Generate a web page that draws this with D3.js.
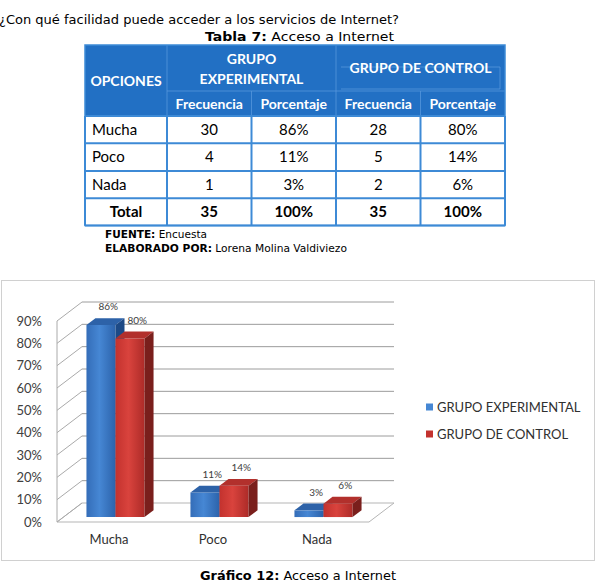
<!DOCTYPE html>
<html>
<head>
<meta charset="utf-8">
<script src="https://cdnjs.cloudflare.com/ajax/libs/d3/7.8.5/d3.min.js"></script>
<style>
    body { margin: 0; background: #fff; }
    svg { display: block; }
</style>
</head>
<body>
<div id="chart"></div>
<script>
var categories = ["Mucha", "Poco", "Nada"];
var series = ["GRUPO EXPERIMENTAL", "GRUPO DE CONTROL"];
var experimental = [0.86, 0.11, 0.03];
var control = [0.80, 0.14, 0.06];
var freqExperimental = [30, 4, 1];
var freqControl = [28, 5, 2];
var totalExperimental = 35;
var totalControl = 35;
var yTicks = [0, 0.1, 0.2, 0.3, 0.4, 0.5, 0.6, 0.7, 0.8, 0.9];

var pct = d3.format(".0%");
var sans = "Lato, 'Open Sans', sans-serif";
var tahoma = "'DejaVu Sans', sans-serif";

var svg = d3.select("#chart").append("svg")
    .attr("width", 600)
    .attr("height", 582);

// ---- header texts ----
svg.append("text")
    .attr("x", -1).attr("y", 24)
    .attr("textLength", 400).attr("lengthAdjust", "spacingAndGlyphs")
    .style("font-family", tahoma).style("font-size", "13px").attr("fill", "#000")
    .text("¿Con qué facilidad puede acceder a los servicios de Internet?");

var t7 = svg.append("text")
    .attr("x", 205).attr("y", 41)
    .attr("textLength", 189).attr("lengthAdjust", "spacingAndGlyphs")
    .style("font-family", tahoma).style("font-size", "13px");
t7.append("tspan").style("font-weight", "bold").text("Tabla 7:");
t7.append("tspan").text(" Acceso a Internet");

// ---- table ----
var colX = [85, 167, 251.5, 336, 420.5, 505];
var rowY = [116, 143.3, 171, 198.3, 225.5];
var headBlue = "#2270c4", lineBlue = "#3d8ad6", innerLine = "#5c9ce0";
var tbl = svg.append("g");

tbl.append("rect")
    .attr("x", colX[0]).attr("y", 45)
    .attr("width", colX[5] - colX[0]).attr("height", rowY[0] - 45)
    .attr("fill", headBlue);

// light inner lines of header
var hl = [
    [colX[1], 45, colX[1], rowY[0]],
    [colX[3], 45, colX[3], rowY[0]],
    [colX[2], 91, colX[2], rowY[0]],
    [colX[4], 91, colX[4], rowY[0]],
    [colX[1], 91, colX[5], 91],
    [colX[3] + 5, 67, colX[5] - 5, 67],
    [colX[3] + 5, 89, colX[5] - 5, 89],
    [colX[5] - 5, 67, colX[5] - 5, 89]
];
tbl.selectAll("line.hl").data(hl).enter().append("line")
    .attr("class", "hl")
    .attr("x1", function (d) { return d[0]; })
    .attr("y1", function (d) { return d[1]; })
    .attr("x2", function (d) { return d[2]; })
    .attr("y2", function (d) { return d[3]; })
    .attr("stroke", innerLine).attr("stroke-width", 1).attr("opacity", 0.7);

function headText(txt, x, y) {
    tbl.append("text")
        .attr("x", x).attr("y", y)
        .attr("text-anchor", "middle")
        .style("font-family", sans).style("font-size", "14px").style("font-weight", "bold")
        .attr("fill", "#fff")
        .text(txt);
}
headText("OPCIONES", (colX[0] + colX[1]) / 2, 86);
headText("GRUPO", (colX[1] + colX[3]) / 2, 64);
headText("EXPERIMENTAL", (colX[1] + colX[3]) / 2, 84);
headText("GRUPO DE CONTROL", (colX[3] + colX[5]) / 2, 73);
["Frecuencia", "Porcentaje", "Frecuencia", "Porcentaje"].forEach(function (t, i) {
    headText(t, (colX[i + 1] + colX[i + 2]) / 2, 108.5);
});

// body rows
var rows = categories.map(function (c, i) {
    return [c, freqExperimental[i], pct(experimental[i]), freqControl[i], pct(control[i])];
});
rows.push(["Total", totalExperimental, "100%", totalControl, "100%"]);

rows.forEach(function (r, i) {
    var y0 = rowY[i], y1 = rowY[i + 1];
    var bold = i === rows.length - 1;
    r.forEach(function (v, j) {
        var left = j === 0 && !bold;
        tbl.append("text")
            .attr("x", left ? colX[0] + 7 : (colX[j] + colX[j + 1]) / 2)
            .attr("y", (y0 + y1) / 2 + 5)
            .attr("text-anchor", left ? "start" : "middle")
            .style("font-family", sans).style("font-size", "15px")
            .style("font-weight", bold ? "bold" : "normal")
            .attr("fill", "#000")
            .text(v);
    });
});

// blue grid of body
rowY.forEach(function (y) {
    tbl.append("line").attr("x1", colX[0]).attr("x2", colX[5]).attr("y1", y).attr("y2", y)
        .attr("stroke", lineBlue).attr("stroke-width", 2);
});
colX.forEach(function (x) {
    tbl.append("line").attr("x1", x).attr("x2", x).attr("y1", rowY[0]).attr("y2", rowY[4])
        .attr("stroke", lineBlue).attr("stroke-width", 2);
});
tbl.append("rect")
    .attr("x", colX[0]).attr("y", 45)
    .attr("width", colX[5] - colX[0]).attr("height", rowY[4] - 45)
    .attr("fill", "none").attr("stroke", lineBlue).attr("stroke-width", 1.5);

var f1 = svg.append("text").attr("x", 105).attr("y", 238)
    .attr("textLength", 102).attr("lengthAdjust", "spacingAndGlyphs")
    .style("font-family", tahoma).style("font-size", "11px");
f1.append("tspan").style("font-weight", "bold").text("FUENTE:");
f1.append("tspan").text(" Encuesta");
var f2 = svg.append("text").attr("x", 105).attr("y", 251.5)
    .attr("textLength", 242).attr("lengthAdjust", "spacingAndGlyphs")
    .style("font-family", tahoma).style("font-size", "11px");
f2.append("tspan").style("font-weight", "bold").text("ELABORADO POR:");
f2.append("tspan").text(" Lorena Molina Valdiviezo");

// ---- chart ----
svg.append("rect")
    .attr("x", 1.5).attr("y", 280.5).attr("width", 593).attr("height", 280)
    .attr("fill", "#fff").attr("stroke", "#d0d0d0").attr("stroke-width", 1);

var DX = 25, DY = -19;
var x = d3.scaleBand().domain(categories).range([57, 369]);
var x1 = d3.scaleBand().domain(series).range([0, x.bandwidth()]).paddingOuter(0.79);
var y = d3.scaleLinear().domain([0, 0.9]).range([522, 321]);

function proj(xv, v, z) {
    return [xv + z * DX, y(v) + z * DY];
}
function poly(pts) {
    return "M" + pts.map(function (p) { return p.join(","); }).join("L") + "Z";
}

var defs = svg.append("defs");
var faces = [
    { front: ["#346db8", "#4687d4", "#2c63ab"], top: "#2d62a8", side: "#1d4a86" },
    { front: ["#c3322e", "#d9433d", "#ad2b28"], top: "#b2302c", side: "#7a1f1c" }
];
faces.forEach(function (f, i) {
    var g = defs.append("linearGradient").attr("id", "front" + i)
        .attr("x1", 0).attr("x2", 1).attr("y1", 0).attr("y2", 0);
    g.append("stop").attr("offset", 0).attr("stop-color", f.front[0]);
    g.append("stop").attr("offset", 0.45).attr("stop-color", f.front[1]);
    g.append("stop").attr("offset", 1).attr("stop-color", f.front[2]);
});

var walls = svg.append("g");
var x0 = x.range()[0], xEnd = x.range()[1];

walls.append("path")
    .attr("d", poly([proj(x0, 0, 0), proj(xEnd, 0, 0), proj(xEnd, 0, 1), proj(x0, 0, 1)]))
    .attr("fill", "#fff").attr("stroke", "#b5b5b5").attr("stroke-width", 1);

yTicks.forEach(function (v) {
    var a = proj(x0, v, 1), b = proj(xEnd, v, 1), c = proj(x0, v, 0);
    if (v > 0) {
        walls.append("line")
            .attr("x1", a[0]).attr("y1", a[1]).attr("x2", b[0]).attr("y2", b[1])
            .attr("stroke", "#9c9c9c").attr("stroke-width", 1);
    }
    walls.append("line")
        .attr("x1", c[0]).attr("y1", c[1]).attr("x2", a[0]).attr("y2", a[1])
        .attr("stroke", "#aaaaaa").attr("stroke-width", 1);
});
walls.append("line")
    .attr("x1", x0).attr("y1", y(0)).attr("x2", x0).attr("y2", y(0.9))
    .attr("stroke", "#aaaaaa").attr("stroke-width", 1);

// bars
var Z0 = 0.26, Z1 = 0.62;
var bars = svg.append("g");
var values = [experimental, control];
categories.forEach(function (cat, ci) {
    series.forEach(function (s, si) {
        var v = values[si][ci];
        var a = x(cat) + x1(s), b = a + x1.bandwidth();
        var g = bars.append("g");
        g.append("path")
            .attr("d", poly([proj(a, 0, Z0), proj(b, 0, Z0), proj(b, v, Z0), proj(a, v, Z0)]))
            .attr("fill", "url(#front" + si + ")");
        g.append("path")
            .attr("d", poly([proj(a, v, Z0), proj(b, v, Z0), proj(b, v, Z1), proj(a, v, Z1)]))
            .attr("fill", faces[si].top);
        g.append("path")
            .attr("d", poly([proj(b, 0, Z0), proj(b, 0, Z1), proj(b, v, Z1), proj(b, v, Z0)]))
            .attr("fill", faces[si].side);
        var lp = proj((a + b) / 2, v, 0.55);
        var top = proj(a, v, Z1);
        bars.append("text")
            .attr("x", lp[0]).attr("y", top[1] - 8)
            .attr("text-anchor", "middle")
            .style("font-family", sans).style("font-size", "10px")
            .attr("fill", "#404040")
            .text(pct(v));
    });
});

// axes
var yAxis = svg.append("g")
    .attr("transform", "translate(" + x0 + ",0)")
    .call(d3.axisLeft(y).tickValues(yTicks).tickFormat(pct).tickSize(0).tickPadding(15));
yAxis.select(".domain").remove();
yAxis.selectAll("text")
    .style("font-family", sans).style("font-size", "13px").attr("fill", "#404040");

var xAxis = svg.append("g")
    .attr("transform", "translate(0," + y(0) + ")")
    .call(d3.axisBottom(x).tickSize(0).tickPadding(13));
xAxis.select(".domain").remove();
xAxis.selectAll("text")
    .style("font-family", sans).style("font-size", "13px").attr("fill", "#303030");

// legend
var colors = [faces[0].front[1], faces[1].front[0]];
var legend = svg.selectAll(".legend").data(series).enter().append("g")
    .attr("class", "legend")
    .attr("transform", function (d, i) { return "translate(426," + (407 + i * 27) + ")"; });
legend.append("rect")
    .attr("x", 0).attr("y", -3.5).attr("width", 7).attr("height", 7)
    .attr("fill", function (d, i) { return colors[i]; });
legend.append("text")
    .attr("x", 11).attr("y", 4.5)
    .style("font-family", sans).style("font-size", "13px").attr("fill", "#303030")
    .text(function (d) { return d; });

// caption
var cap = svg.append("text")
    .attr("x", 200).attr("y", 580)
    .attr("textLength", 196).attr("lengthAdjust", "spacingAndGlyphs")
    .style("font-family", tahoma).style("font-size", "13px");
cap.append("tspan").style("font-weight", "bold").text("Gráfico 12:");
cap.append("tspan").text(" Acceso a Internet");
</script>
</body>
</html>
